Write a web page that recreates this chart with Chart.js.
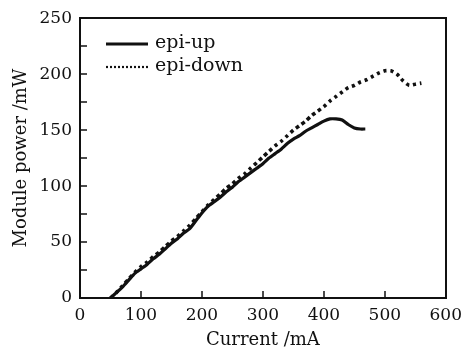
<!DOCTYPE html>
<html><head><meta charset="utf-8">
<script src="https://cdn.jsdelivr.net/npm/chart.js@4"></script>
<style>html,body{margin:0;padding:0;background:#fff}</style>
</head><body>
<canvas id="c" width="469" height="349"></canvas>
<script>
// ---- data ----
const seriesNames = ["epi-up", "epi-down"];
const epiUpCurrent = [50,60,70,80,90,100,110,120,130,140,150,160,170,180,190,200,210,220,230,240,250,260,270,280,290,300,310,320,330,340,350,360,370,380,390,400,410,420,430,440,450,460,468];
const epiUpPower   = [0,5,10,16,22,26,30,35,39,44,49,53,58,62,69,76,82,86,90,95,99,104,108,112,116,120,125,129,133,138,142,145,149,152,155,158,160,160,159,155,152,151,151];
const epiDownCurrent = [50,60,70,80,90,100,110,120,130,140,150,160,170,180,190,200,210,220,230,240,250,260,270,280,290,300,310,320,330,340,350,360,370,380,390,400,410,420,430,440,450,460,470,480,490,500,510,520,530,540,550,560];
const epiDownPower   = [0,5,11,17,23,28,32,37,41,46,51,55,60,65,71,77,83,88,93,98,102,107,111,116,121,126,131,136,140,145,150,154,158,163,167,171,176,180,184,188,190,193,195,198,201,203,203,200,194,190,191,192];
const xTickValues = [0,100,200,300,400,500,600];
const yTickValues = [0,50,100,150,200,250];
const xTitle = "Current /mA";
const yTitle = "Module power /mW";

const toXY = (xs, ys) => xs.map((x, i) => ({x, y: ys[i]}));
const INK = "#111";
const SERIF = "'DejaVu Serif', 'Liberation Serif', serif";

const framePlugin = {
  id: 'frameAndLegend',
  afterDatasetsDraw(chart) {
    const ctx = chart.ctx;
    const a = chart.chartArea;
    const sx = chart.scales.x, sy = chart.scales.y;
    ctx.save();
    ctx.setLineDash([]);
    ctx.fillStyle = INK;
    const L = Math.round(a.left), R = Math.round(a.right), T = Math.round(a.top), B = Math.round(a.bottom);
    // frame (solid rectangles for crisp lines)
    ctx.fillRect(L - 1, T - 1, R - L + 2, 2);
    ctx.fillRect(L - 1, B - 1, R - L + 2, 2);
    ctx.fillRect(L - 1, T - 1, 2, B - T + 2);
    ctx.fillRect(R - 1, T - 1, 2, B - T + 2);
    // inward ticks positioned by the scales
    sx.ticks.forEach(t => {
      const px = Math.round(sx.getPixelForValue(t.value));
      ctx.fillRect(px - 0.75, B - 7, 1.5, 7);
    });
    sy.ticks.forEach(t => {
      const py = Math.round(sy.getPixelForValue(t.value));
      ctx.fillRect(L, py - 0.75, 7, 1.5);
    });
    // legend inside the plot
    const lx0 = L + 26, lx1 = L + 68, tx = L + 75;
    const rows = [T + 26, T + 49];
    ctx.font = "19px " + SERIF;
    ctx.textBaseline = 'middle';
    ctx.textAlign = 'left';
    ctx.strokeStyle = INK;
    chart.data.datasets.forEach((ds, i) => {
      const y = rows[i];
      ctx.beginPath();
      ctx.lineWidth = i === 0 ? 3 : 2.2;
      ctx.setLineDash(i === 0 ? [] : [2, 2]);
      ctx.moveTo(lx0, y); ctx.lineTo(lx1, y); ctx.stroke();
      ctx.setLineDash([]);
      ctx.fillText(ds.label, tx, y - 1);
    });
    ctx.restore();
  }
};

new Chart(document.getElementById('c'), {
  type: 'line',
  data: {
    datasets: [
      {label: seriesNames[0], data: toXY(epiUpCurrent, epiUpPower), borderColor: INK, borderWidth: 3.2, pointRadius: 0, tension: 0.2, fill: false},
      {label: seriesNames[1], data: toXY(epiDownCurrent, epiDownPower), borderColor: INK, borderWidth: 3.6, borderDash: [3.5, 3.5], borderCapStyle: 'butt', pointRadius: 0, tension: 0.2, fill: false}
    ]
  },
  options: {
    responsive: false,
    animation: false,
    devicePixelRatio: 1,
    layout: {padding: {top: 16, right: 18, left: 0, bottom: 0}},
    plugins: {legend: {display: false}, tooltip: {enabled: false}},
    scales: {
      x: {
        type: 'linear', min: 0, max: 600,
        afterBuildTicks: s => { s.ticks = xTickValues.map(v => ({value: v})); },
        afterFit: s => { s.height = 51; },
        grid: {display: false, drawTicks: false},
        border: {display: false},
        ticks: {font: {family: SERIF, size: 17}, color: INK, padding: 7, maxRotation: 0},
        title: {display: true, text: xTitle, font: {family: SERIF, size: 18, lineHeight: 1.0}, color: INK, padding: {top: 0, bottom: 0}}
      },
      y: {
        type: 'linear', min: 0, max: 250,
        afterBuildTicks: s => { const t = []; for (let v = 0; v <= 250; v += 25) t.push({value: v}); s.ticks = t; },
        afterFit: s => { s.width = 80; },
        grid: {display: false, drawTicks: false},
        border: {display: false},
        ticks: {font: {family: SERIF, size: 17}, color: INK, padding: 8,
          callback: v => yTickValues.includes(v) ? String(v) : ''},
        title: {display: true, text: yTitle, font: {family: SERIF, size: 18}, color: INK, padding: {top: 11, bottom: 0}}
      }
    }
  },
  plugins: [framePlugin]
});
</script>
</body></html>
